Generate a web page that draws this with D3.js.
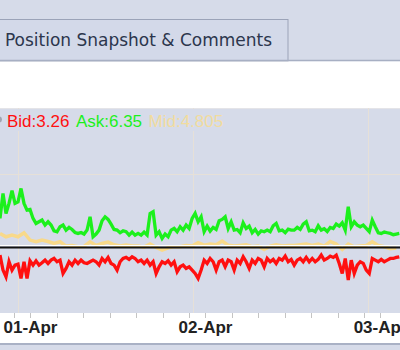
<!DOCTYPE html>
<html><head><meta charset="utf-8">
<script src="https://cdn.jsdelivr.net/npm/d3@7"></script>
<style>
html,body{margin:0;padding:0;background:#d6dbe9;overflow:hidden;}
svg{display:block;}
</style></head>
<body>
<svg id="c" width="400" height="350"></svg>
<script>
// ---- data ----
const tabTitle = "Position Snapshot & Comments";
const legendNames = ["Bid", "Ask", "Mid"];
const legendValues = ["3.26", "6.35", "4.805"];
const dayLabels = ["01-Apr", "02-Apr", "03-Apr"];
const dayDates = [new Date(2024, 3, 1), new Date(2024, 3, 2), new Date(2024, 3, 3)];
const seriesStart = new Date(2024, 2, 31, 19, 53);
const stepMinutes = 24.7;      // sampling interval of bid / ask
const midStepMinutes = 49.4;   // sampling interval of mid
const tickStepMinutes = 218;   // minor axis tick interval
const gridOffsetMinutes = -99; // day separator relative to midnight
const gridValues = [15];
const refValue = 5;

const askValues = [8.92,12.33,9.60,10.97,12.70,10.97,11.19,13.01,10.97,10.06,
10.15,8.92,8.23,8.46,8.69,8.01,8.46,8.01,7.23,7.10,
7.78,8.01,7.32,7.69,7.41,7.00,6.87,7.00,6.78,7.32,
9.14,6.41,6.78,7.32,8.60,9.14,8.78,8.14,7.41,7.32,
6.96,7.23,7.10,6.64,7.05,6.64,6.87,6.64,7.05,6.64,
9.60,9.83,6.64,7.10,6.18,6.78,6.41,7.32,7.55,7.10,
7.78,7.32,8.01,7.55,8.92,9.60,8.46,9.14,7.10,7.87,
7.19,7.69,7.41,8.60,8.78,9.14,7.55,8.46,7.32,7.41,
6.96,8.32,7.55,7.87,6.96,7.41,6.78,7.23,7.10,7.32,
7.10,7.91,8.23,7.23,7.32,6.96,7.46,7.32,7.32,7.69,
7.41,8.14,8.46,7.23,7.32,7.10,7.91,7.32,7.51,7.14,
7.69,7.55,8.14,7.87,8.32,7.32,10.51,7.78,8.46,8.01,
7.78,8.01,7.55,7.10,8.69,7.78,6.96,6.87,7.05,6.96,
6.87,6.69,6.78,6.87];

const bidValues = [3.91,1.86,0.95,3.00,1.86,2.54,2.68,0.72,3.00,0.72,
3.13,2.54,3.13,2.54,2.86,3.22,2.77,3.22,3.45,3.00,
3.22,1.40,2.09,3.00,2.54,3.22,2.77,3.22,2.86,2.77,
3.00,3.22,3.00,2.54,3.45,3.00,3.59,2.77,2.54,1.86,
3.00,3.45,3.59,3.32,3.68,3.45,3.00,3.22,2.77,3.22,
2.54,3.00,1.40,2.31,3.00,2.77,3.13,2.54,3.00,1.63,
2.31,2.54,2.09,2.31,1.86,1.40,0.72,1.86,3.22,2.77,
3.45,3.00,1.86,3.00,3.22,2.31,3.22,3.00,1.86,3.22,
2.77,3.68,3.00,2.09,3.22,2.77,3.45,3.22,2.31,3.45,
3.00,3.32,2.77,3.45,3.22,3.77,3.00,3.32,2.54,3.22,
3.45,3.00,3.59,3.00,3.45,3.00,3.32,3.91,3.22,3.45,
3.77,3.59,3.91,2.77,1.40,3.45,0.49,3.22,1.40,2.54,
3.00,2.77,1.86,1.40,3.45,3.22,3.00,3.32,3.00,3.22,
3.45,3.45,3.59,3.68];

const midValues = [6.87,6.41,6.64,6.41,6.96,5.96,5.73,5.96,5.77,5.50,
5.73,5.14,5.23,5.05,5.09,5.73,5.23,5.50,5.68,5.32,
5.14,5.27,5.14,5.14,5.00,5.41,4.95,4.59,4.91,5.05,
5.05,5.23,5.14,5.59,5.27,5.41,5.32,5.82,5.27,5.14,
5.23,5.32,5.05,5.14,4.68,5.14,5.32,5.14,5.23,5.23,
5.32,5.41,5.23,5.41,5.14,5.77,5.41,4.68,5.41,5.05,
5.14,5.23,5.73,5.23,5.05,4.77,4.86];

// ---- layout ----
const W = 400, H = 350;
const plotTop = 108, plotBottom = 313, axisBottom = 343;
const colors = {bid: "#ff1010", ask: "#1cf01c", mid: "#f8d98a", midText: "#f1dc9e"};

const svg = d3.select("#c");
const minute = 60000;
const t = (base, mins) => new Date(base.getTime() + mins * minute);

const x = d3.scaleTime()
  .domain([new Date(2024, 2, 31, 19, 53), new Date(2024, 3, 3, 2, 44)])
  .range([0, W]);
const y = d3.scaleLinear().domain([-4, 24]).range([plotBottom, plotTop]);

// top header + tab
svg.append("rect").attr("x", 0).attr("y", 0).attr("width", W).attr("height", 61).attr("fill", "#d6dbe9");
svg.append("rect").attr("x", -1).attr("y", 19.5).attr("width", 289).attr("height", 42)
  .attr("fill", "#d3d9e9").attr("stroke", "#9ba3b8").attr("stroke-width", 1);
svg.append("text").attr("x", 5).attr("y", 45.5)
  .attr("font-family", "'DejaVu Sans Condensed', 'DejaVu Sans', sans-serif")
  .attr("font-size", 18).attr("fill", "#2c364d")
  .attr("textLength", 267).attr("lengthAdjust", "spacingAndGlyphs")
  .text(tabTitle);
svg.append("line").attr("x1", 0).attr("x2", W).attr("y1", 60.5).attr("y2", 60.5)
  .attr("stroke", "#a7afc3").attr("stroke-width", 1.5);

// white panel
svg.append("rect").attr("x", 0).attr("y", 61.5).attr("width", W).attr("height", plotTop - 61.5).attr("fill", "#ffffff");

// plot background
svg.append("rect").attr("x", 0).attr("y", plotTop).attr("width", W).attr("height", plotBottom - plotTop).attr("fill", "#d6dbe9");
svg.append("line").attr("x1", 0).attr("x2", W).attr("y1", plotTop + 0.5).attr("y2", plotTop + 0.5).attr("stroke", "#e4e4e8");

// grid
svg.append("g").selectAll("line").data(gridValues).join("line")
  .attr("x1", 0).attr("x2", W).attr("y1", d => Math.round(y(d)) + 0.5).attr("y2", d => Math.round(y(d)) + 0.5)
  .attr("stroke", "#e6e0d8").attr("stroke-width", 1);
svg.append("g").selectAll("line").data(dayDates).join("line")
  .attr("x1", d => Math.round(x(t(d, gridOffsetMinutes))) + 0.5)
  .attr("x2", d => Math.round(x(t(d, gridOffsetMinutes))) + 0.5)
  .attr("y1", plotTop).attr("y2", plotBottom)
  .attr("stroke", "#e6e0d8").attr("stroke-width", 1);

// series
svg.append("clipPath").attr("id", "pc").append("rect")
  .attr("x", 0).attr("y", plotTop).attr("width", W).attr("height", plotBottom - plotTop);
const g = svg.append("g").attr("clip-path", "url(#pc)");
const lineOf = (vals, step) => d3.line()
  .x((d, i) => x(t(seriesStart, i * step)))
  .y(d => y(d))(vals);

g.append("path").attr("d", lineOf(midValues, midStepMinutes)).attr("fill", "none")
  .attr("stroke", colors.mid).attr("stroke-width", 3.5).attr("stroke-linejoin", "miter");
g.append("path").attr("d", lineOf(askValues, stepMinutes)).attr("fill", "none")
  .attr("stroke", colors.ask).attr("stroke-width", 3.3).attr("stroke-linejoin", "miter");
g.append("path").attr("d", lineOf(bidValues, stepMinutes)).attr("fill", "none")
  .attr("stroke", colors.bid).attr("stroke-width", 3.3).attr("stroke-linejoin", "miter");

// reference line
const ry = Math.round(y(refValue));
g.append("line").attr("x1", 0).attr("x2", W).attr("y1", ry - 1.5).attr("y2", ry - 1.5).attr("stroke", "#ffffff").attr("stroke-width", 1);
g.append("line").attr("x1", 0).attr("x2", W).attr("y1", ry + 0.5).attr("y2", ry + 0.5).attr("stroke", "#111111").attr("stroke-width", 1.8);

// legend
svg.append("rect").attr("x", 0).attr("y", plotTop + 1).attr("width", 232).attr("height", 22).attr("fill", "#d6dbe9");
svg.append("circle").attr("cx", -1).attr("cy", 119.5).attr("r", 3).attr("fill", "#a0a4b0");
const leg = svg.append("text").attr("x", 7).attr("y", 126.5)
  .attr("font-family", "Arial, 'Liberation Sans', sans-serif").attr("font-size", 17);
const legColors = [colors.bid, colors.ask, colors.midText];
legendNames.forEach((n, i) => {
  leg.append("tspan").attr("dx", i === 0 ? 0 : 6.5).attr("fill", legColors[i])
    .text(n + ":" + legendValues[i]);
});

// x axis band
svg.append("rect").attr("x", 0).attr("y", plotBottom).attr("width", W).attr("height", axisBottom - plotBottom).attr("fill", "#ffffff");
svg.append("line").attr("x1", 0).attr("x2", W).attr("y1", axisBottom + 1).attr("y2", axisBottom + 1)
  .attr("stroke", "#a9b1c5").attr("stroke-width", 2);

const minorTicks = [];
[new Date(2024, 2, 31)].concat(dayDates).forEach(d => {
  for (let k = 0; k < 7; k++) minorTicks.push(t(d, k * tickStepMinutes));
});
const [d0, d1] = x.domain();
const ticksIn = minorTicks.filter(v => v >= d0 && v <= d1);

const ax = svg.append("g").attr("transform", `translate(0,${plotBottom})`)
  .call(d3.axisBottom(x).tickValues(ticksIn).tickSize(5).tickFormat(""));
ax.select(".domain").remove();
ax.selectAll(".tick line").attr("stroke", "#c4c4c4").attr("shape-rendering", "crispEdges");

const lab = svg.append("g").attr("transform", `translate(0,${plotBottom})`)
  .call(d3.axisBottom(x).tickValues(dayDates).tickSize(0).tickPadding(8)
    .tickFormat((d, i) => dayLabels[i]));
lab.select(".domain").remove();
lab.selectAll("text").attr("font-family", "Arial, 'Liberation Sans', sans-serif")
  .attr("font-size", 17).attr("font-weight", "bold").attr("fill", "#222222");
</script>
</body></html>
